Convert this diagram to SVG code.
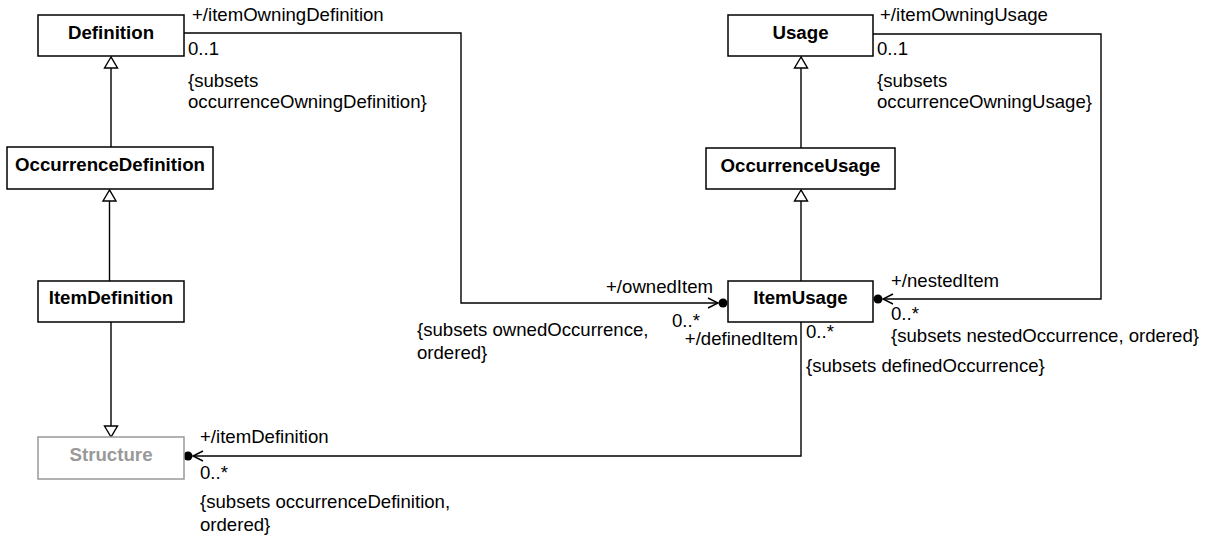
<svg xmlns="http://www.w3.org/2000/svg" width="1209" height="537" viewBox="0 0 1209 537">
<style>
.box{fill:#fff;stroke:#000;stroke-width:1.5}
.gbox{fill:#fff;stroke:#999;stroke-width:1.5}
.name{font-family:"Liberation Sans",Arial,sans-serif;font-size:18.7px;font-weight:bold;text-anchor:middle;fill:#000}
.gname{font-family:"Liberation Sans",Arial,sans-serif;font-size:18.7px;font-weight:bold;text-anchor:middle;fill:#999}
.lbl{font-family:"Liberation Sans",Arial,sans-serif;font-size:18.6px;fill:#000}
.ln{fill:none;stroke:#000;stroke-width:1.4}
.tri{fill:#fff;stroke:#000;stroke-width:1.4}
.dot{fill:#000}
</style>
<rect width="1209" height="537" fill="#fff"/>
<g id="connectors">
  <path class="ln" d="M111,147 V68"/>
  <path class="tri" d="M111,57 L104.5,68 L117.5,68 Z"/>
  <path class="ln" d="M109.5,281 V201"/>
  <path class="tri" d="M109.5,190 L103,201 L116,201 Z"/>
  <path class="ln" d="M111,322 V426"/>
  <path class="tri" d="M111,437 L104.5,426 L117.5,426 Z"/>
  <path class="ln" d="M801,148 V68"/>
  <path class="tri" d="M801,57 L794.5,68 L807.5,68 Z"/>
  <path class="ln" d="M801,281 V201"/>
  <path class="tri" d="M801,190 L794.5,201 L807.5,201 Z"/>
  <path class="ln" d="M184,33 H461 V303 H718"/>
  <path class="ln" d="M708,298 L718,303 L708,308"/>
  <circle class="dot" cx="723" cy="303" r="4.5"/>
  <path class="ln" d="M873,34 H1101 V299 H883"/>
  <path class="ln" d="M893,294 L883,299 L893,304"/>
  <circle class="dot" cx="878" cy="299" r="4.5"/>
  <path class="ln" d="M801,322 V456 H193"/>
  <path class="ln" d="M203,451 L193,456 L203,461"/>
  <circle class="dot" cx="188" cy="456" r="4.5"/>
</g>
<g id="labels">
  <text class="lbl" x="192" y="21">+/itemOwningDefinition</text>
  <text class="lbl" x="188" y="55">0..1</text>
  <text class="lbl" x="188" y="87">{subsets</text>
  <text class="lbl" x="188" y="108">occurrenceOwningDefinition}</text>
  <text class="lbl" x="880" y="21">+/itemOwningUsage</text>
  <text class="lbl" x="877" y="55">0..1</text>
  <text class="lbl" x="877" y="87">{subsets</text>
  <text class="lbl" x="877" y="108">occurrenceOwningUsage}</text>
  <text class="lbl" x="713" y="293" text-anchor="end">+/ownedItem</text>
  <text class="lbl" x="672" y="327">0..*</text>
  <text class="lbl" x="417" y="336">{subsets ownedOccurrence,</text>
  <text class="lbl" x="417" y="359">ordered}</text>
  <text class="lbl" x="798" y="345" text-anchor="end">+/definedItem</text>
  <text class="lbl" x="806" y="338">0..*</text>
  <text class="lbl" x="806" y="372">{subsets definedOccurrence}</text>
  <text class="lbl" x="891" y="287">+/nestedItem</text>
  <text class="lbl" x="891" y="320">0..*</text>
  <text class="lbl" x="891" y="342">{subsets nestedOccurrence, ordered}</text>
  <text class="lbl" x="200" y="443">+/itemDefinition</text>
  <text class="lbl" x="200" y="479">0..*</text>
  <text class="lbl" x="200" y="508">{subsets occurrenceDefinition,</text>
  <text class="lbl" x="200" y="531">ordered}</text>
</g>
<g id="Definition"><rect class="box" x="38" y="15" width="146" height="41"/><text class="name" x="111" y="39">Definition</text></g>
<g id="OccurrenceDefinition"><rect class="box" x="7" y="147" width="206" height="42"/><text class="name" x="110" y="171">OccurrenceDefinition</text></g>
<g id="ItemDefinition"><rect class="box" x="38" y="281" width="146" height="41"/><text class="name" x="111" y="304">ItemDefinition</text></g>
<g id="Structure"><rect class="gbox" x="38" y="437" width="146" height="42"/><text class="gname" x="111" y="461">Structure</text></g>
<g id="Usage"><rect class="box" x="728" y="15" width="145" height="41"/><text class="name" x="800.5" y="39">Usage</text></g>
<g id="OccurrenceUsage"><rect class="box" x="706" y="148" width="189" height="41"/><text class="name" x="800.5" y="172">OccurrenceUsage</text></g>
<g id="ItemUsage"><rect class="box" x="728" y="281" width="145" height="41"/><text class="name" x="800.5" y="304">ItemUsage</text></g>
</svg>
